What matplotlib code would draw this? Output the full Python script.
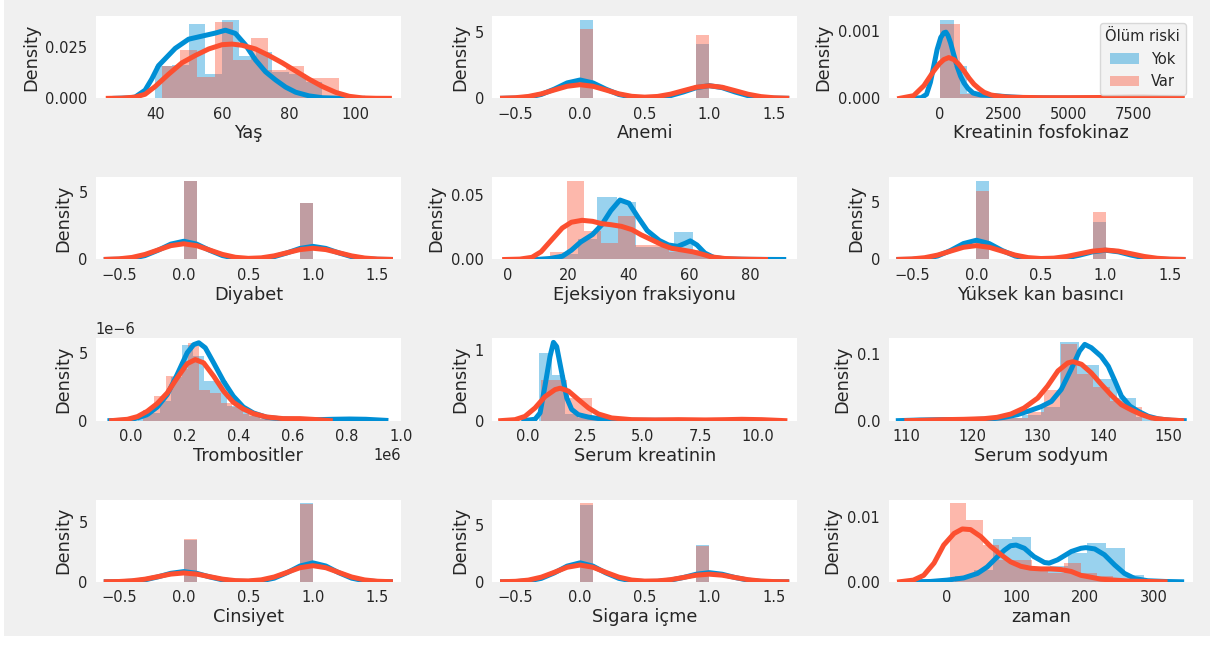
import numpy as np
import matplotlib
matplotlib.use("Agg")
import matplotlib.pyplot as plt
from matplotlib.patches import Rectangle

BLUE = "#008fd5"
RED = "#fc4f30"

# binary variables: bars at 0 and 1 (bin width 0.1), kde on a common grid
bin_left = [0.0, 0.9]
bin_kde_x = [-0.6, -0.5, -0.4, -0.3, -0.2, -0.1, 0.0, 0.1, 0.2, 0.3, 0.4, 0.5,
             0.6, 0.7, 0.8, 0.9, 1.0, 1.1, 1.2, 1.3, 1.4, 1.5, 1.6]

# Yas
yas_yok_edges = [40, 45, 50, 55, 60, 65, 70, 75, 80, 85, 90]
yas_yok_hist = [0.0158, 0.0165, 0.0364, 0.0118, 0.0384, 0.0207, 0.0227, 0.0128, 0.0118, 0.0079]
yas_var_edges = [42, 47.3, 52.6, 57.9, 63.2, 68.5, 73.8, 79.1, 84.4, 89.7, 95]
yas_var_hist = [0.0157, 0.0236, 0.0105, 0.0373, 0.0190, 0.0295, 0.0138, 0.0157, 0.0098, 0.0098]
yas_yok_kde_x = [28, 32, 34, 37, 39, 41, 46, 50, 54, 58, 61, 64, 67, 70, 73, 76, 79, 82, 86, 90, 95, 102]
yas_yok_kde_y = [0, 0.0002, 0.0006, 0.0040, 0.0095, 0.0160, 0.0245, 0.0290, 0.0305, 0.0320, 0.0334,
                 0.0318, 0.0262, 0.0188, 0.0130, 0.0090, 0.0055, 0.0030, 0.0012, 0.0003, 0.00005, 0]
yas_var_kde_x = [26, 30, 34, 37, 40, 44, 48, 52, 56, 60, 63, 66, 70, 74, 78, 82, 86, 90, 94, 98, 102, 106, 110]
yas_var_kde_y = [0, 0.0001, 0.0006, 0.0020, 0.0058, 0.0118, 0.0174, 0.0210, 0.0242, 0.0263, 0.0266, 0.0260,
                 0.0242, 0.0210, 0.0174, 0.0134, 0.0094, 0.0058, 0.0029, 0.0010, 0.0002, 0.00003, 0]

# Anemi
anemi_yok_hist = [5.91, 4.09]
anemi_var_hist = [5.21, 4.79]
anemi_yok_kde = [0.003, 0.019, 0.088, 0.294, 0.695, 1.166, 1.385, 1.166, 0.695, 0.294, 0.090, 0.031,
                 0.064, 0.203, 0.481, 0.807, 0.958, 0.807, 0.481, 0.203, 0.061, 0.013, 0.002]
anemi_var_kde = [0.012, 0.047, 0.143, 0.340, 0.630, 0.911, 1.031, 0.911, 0.630, 0.342, 0.154, 0.091,
                 0.144, 0.315, 0.580, 0.839, 0.949, 0.839, 0.580, 0.313, 0.132, 0.044, 0.011]

# Kreatinin fosfokinaz
cpk_yok_edges = [30, 552, 1074, 1596, 2118, 2640, 3162, 3684, 4206, 4728, 5250, 5772, 6294, 6816, 7338, 7861]
cpk_yok_hist = [0.00117, 0.000491, 0.0000755, 0.0000472, 0.0000283, 0.0000189, 0.0000189, 0.0000094,
                0.0000094, 0.0000094, 0, 0.0000094, 0, 0.0000094, 0.0000189]
cpk_var_edges = [23, 807, 1591, 2374, 3158, 3942, 4726, 5510, 6293, 7077, 7861]
cpk_var_hist = [0.001116, 0.0000665, 0.0000266, 0.0000133, 0.0000133, 0, 0.0000133, 0, 0, 0.0000266]
cpk_yok_kde_x = [-1000, -700, -500, -350, -200, -90, 50, 170, 250, 330, 430, 550, 690, 820, 950, 1100,
                 1300, 1600, 2100, 2800, 3500, 4500, 5500, 6500, 7500, 8750]
cpk_yok_kde_y = [0, 0.00001, 0.00006, 0.00024, 0.00052, 0.00073, 0.00091, 0.00098, 0.00099, 0.00094,
                 0.00083, 0.00066, 0.00047, 0.00033, 0.00023, 0.00015, 0.00008, 0.00005, 0.00004, 0.00002,
                 0.000008, 0.000005, 0.000004, 0.000005, 0.000008, 0]
cpk_var_kde_x = [-1540, -1000, -600, -220, 0, 170, 360, 560, 750, 950, 1150, 1340, 1550, 1730, 2000, 2250,
                 2600, 3000, 4000, 5000, 6000, 6800, 7400, 7900, 8500, 9400]
cpk_var_kde_y = [0, 0.00004, 0.00019, 0.00041, 0.00052, 0.00058, 0.00061, 0.00058, 0.00051, 0.00041,
                 0.0003, 0.00021, 0.00014, 0.00009, 0.00005, 0.000035, 0.00002, 0.000015, 0.00001, 0.00001,
                 0.000012, 0.000015, 0.00002, 0.00002, 0.000012, 0]

# Diyabet
diyabet_yok_hist = [5.81, 4.19]
diyabet_var_hist = [5.83, 4.17]
diyabet_yok_kde = [0.003, 0.019, 0.088, 0.290, 0.684, 1.144, 1.357, 1.144, 0.684, 0.290, 0.090, 0.032,
                   0.066, 0.209, 0.492, 0.824, 0.977, 0.824, 0.492, 0.209, 0.063, 0.013, 0.002]
diyabet_var_kde = [0.012, 0.050, 0.154, 0.376, 0.706, 1.031, 1.170, 1.031, 0.706, 0.378, 0.163, 0.085,
                   0.122, 0.271, 0.504, 0.737, 0.836, 0.737, 0.504, 0.268, 0.110, 0.035, 0.009]

# Ejeksiyon fraksiyonu
ef_yok_edges = [17, 23.3, 29.6, 35.9, 42.2, 48.5, 54.8, 61.1, 67.4, 73.7, 80]
ef_yok_hist = [0.0039, 0.0156, 0.0485, 0.0446, 0.0094, 0.0094, 0.0211, 0.0039, 0.0016, 0.0008]
ef_var_edges = [14, 19.6, 25.2, 30.8, 36.4, 42, 47.6, 53.2, 58.8, 64.4, 70]
ef_var_hist = [0.0056, 0.0610, 0.0223, 0.0130, 0.0335, 0.0112, 0.0112, 0.0056, 0.0074, 0.0019]
ef_yok_kde_x = [6, 10, 14, 18, 21, 24, 28, 31, 34, 37, 40, 43, 46, 50, 53, 56, 58.5, 60.2, 62.4, 65, 68, 72, 80, 91]
ef_yok_kde_y = [0, 0.0001, 0.0008, 0.0025, 0.0072, 0.0135, 0.0195, 0.0270, 0.0380, 0.0463, 0.0438, 0.0328,
                0.0225, 0.0148, 0.0113, 0.0102, 0.0126, 0.0145, 0.0113, 0.0050, 0.0015, 0.0004, 0.0001, 0]
ef_var_kde_x = [-1, 4, 8, 11, 14.5, 18, 21, 24.5, 28, 31, 34, 37.5, 41, 44, 47.5, 51, 54, 57.5, 61, 64, 67,
                71.5, 77, 85]
ef_var_kde_y = [0, 0.0003, 0.0017, 0.0060, 0.0153, 0.0245, 0.0290, 0.0305, 0.0297, 0.0279, 0.0271, 0.0258,
                0.0232, 0.0192, 0.0153, 0.0113, 0.0087, 0.0074, 0.0060, 0.0042, 0.0021, 0.0008, 0.0003, 0]

# Yuksek kan basinci
yuksek_yok_hist = [6.75, 3.25]
yuksek_var_hist = [5.94, 4.06]
yuksek_yok_kde = [0.002, 0.014, 0.080, 0.300, 0.776, 1.372, 1.659, 1.372, 0.776, 0.300, 0.081, 0.021,
                  0.040, 0.145, 0.374, 0.661, 0.799, 0.661, 0.374, 0.145, 0.038, 0.007, 0.001]
yuksek_var_kde = [0.012, 0.050, 0.155, 0.380, 0.719, 1.052, 1.196, 1.052, 0.719, 0.382, 0.163, 0.084,
                  0.118, 0.263, 0.492, 0.720, 0.818, 0.720, 0.492, 0.260, 0.106, 0.034, 0.008]

# Trombositler
tromb_yok_edges = [25100, 66340, 107580, 148820, 190060, 231300, 272540, 313780, 355020, 396260, 437500,
                   478740, 519980, 561220, 602460, 643700, 684940, 726180, 767420, 808660, 850000]
tromb_yok_hist = [0.25e-6, 0.6e-6, 1.45e-6, 3.2e-6, 5.57e-6, 4.78e-6, 2.9e-6, 2.9e-6, 1.1e-6, 0.94e-6,
                  0.36e-6, 0.12e-6, 0.12e-6, 0.12e-6, 0, 0, 0.12e-6, 0, 0, 0.12e-6]
tromb_var_edges = [47000, 88000, 129000, 170000, 211000, 252000, 293000, 334000, 375000, 416000, 457000,
                   498000, 539000, 580000, 621000]
tromb_var_hist = [0.76e-6, 1.78e-6, 3.3e-6, 3.8e-6, 5.7e-6, 2.29e-6, 2.03e-6, 1.27e-6, 1.02e-6, 0.51e-6,
                  0.51e-6, 0.25e-6, 0, 0.25e-6]
tromb_yok_kde_x = [-77000, -12000, 25000, 61000, 98000, 135000, 172000, 209000, 233000, 252000, 276000,
                   307000, 344000, 380000, 417000, 454000, 503000, 564000, 626000, 687000, 748000, 810000,
                   871000, 945000]
tromb_yok_kde_y = [0, 0.03e-6, 0.2e-6, 0.44e-6, 1.0e-6, 1.92e-6, 3.4e-6, 5.0e-6, 5.6e-6, 5.74e-6, 5.37e-6,
                   4.26e-6, 2.9e-6, 1.8e-6, 1.0e-6, 0.57e-6, 0.25e-6, 0.12e-6, 0.07e-6, 0.07e-6, 0.1e-6,
                   0.12e-6, 0.1e-6, 0.02e-6]
tromb_var_kde_x = [-71000, -12000, 25000, 61000, 98000, 135000, 172000, 209000, 239000, 270000, 307000,
                   344000, 380000, 417000, 454000, 503000, 564000, 626000, 687000, 739000]
tromb_var_kde_y = [0, 0.1e-6, 0.3e-6, 0.69e-6, 1.26e-6, 2.04e-6, 3.15e-6, 4.2e-6, 4.5e-6, 4.26e-6, 3.28e-6,
                   2.17e-6, 1.35e-6, 0.86e-6, 0.52e-6, 0.27e-6, 0.15e-6, 0.15e-6, 0.08e-6, 0]

# Serum kreatinin
sk_yok_edges = [0.5, 1.06, 1.62, 2.18, 2.74, 3.3, 3.86, 4.42, 4.98, 5.54, 6.1]
sk_yok_hist = [0.96, 0.651, 0.088, 0.044, 0.0176, 0.0088, 0.0088, 0, 0, 0.0088]
sk_var_edges = [0.6, 1.7, 2.8, 3.9, 5.0, 6.1, 7.2, 8.3, 9.4]
sk_var_hist = [0.58, 0.32, 0.04, 0.02, 0.01, 0.01, 0, 0.02]
sk_yok_kde_x = [-0.17, 0.32, 0.54, 0.75, 0.97, 1.12, 1.26, 1.48, 1.7, 1.91, 2.2, 2.64, 3.07, 3.65, 4.52,
                5.68, 6.77]
sk_yok_kde_y = [0, 0.02, 0.11, 0.49, 0.91, 1.11, 1.05, 0.68, 0.32, 0.16, 0.085, 0.05, 0.03, 0.014, 0.005,
                0.005, 0]
sk_var_kde_x = [-1.17, -0.55, -0.12, 0.32, 0.75, 1.19, 1.41, 1.77, 2.2, 2.64, 3.07, 3.65, 4.52, 5.54, 6.55,
                7.71, 8.58, 9.3, 10.17, 11.17]
sk_var_kde_y = [0, 0.014, 0.06, 0.18, 0.34, 0.44, 0.46, 0.42, 0.3, 0.18, 0.095, 0.038, 0.014, 0.01, 0.014,
                0.01, 0.014, 0.019, 0.014, 0]

# Serum sodyum
na_yok_edges = [113, 115.9, 118.8, 121.8, 124.7, 127.6, 130.5, 133.4, 136.3, 139.3, 142.2, 145.1, 148]
na_yok_hist = [0.0017, 0.0017, 0, 0.0017, 0.0034, 0.0085, 0.0203, 0.118, 0.0845, 0.0625, 0.0338, 0.0051]
na_var_edges = [116, 118.5, 121, 123.5, 126, 128.5, 131, 133.5, 136, 138.5, 141, 143.5, 146]
na_var_hist = [0.0042, 0, 0.0042, 0.0083, 0.0042, 0.0125, 0.046, 0.115, 0.07, 0.05, 0.029, 0.0208]
na_yok_kde_x = [108.7, 112, 115.6, 119.7, 122.8, 124.9, 126.9, 129, 130.5, 132.1, 133.6, 135.1, 136.4,
                137.2, 138.2, 139.7, 140.8, 141.8, 142.8, 144.1, 145.4, 146.9, 148.5, 150.5, 152.4]
na_yok_kde_y = [0, 0.001, 0.0015, 0.0015, 0.0025, 0.005, 0.009, 0.0157, 0.021, 0.029, 0.047, 0.077, 0.105,
                0.115, 0.11, 0.097, 0.082, 0.06, 0.037, 0.022, 0.014, 0.0066, 0.0025, 0.0005, 0]
na_var_kde_x = [110, 112.6, 115.6, 118.7, 121.8, 123.8, 125.9, 127.9, 130, 131.5, 133.1, 134.6, 135.4,
                136.7, 138.2, 139.7, 141.3, 142.8, 144.4, 145.9, 147.4, 149.5, 152]
na_var_kde_y = [0, 0.0005, 0.0015, 0.002, 0.003, 0.005, 0.01, 0.019, 0.034, 0.052, 0.075, 0.087, 0.089,
                0.085, 0.072, 0.055, 0.038, 0.024, 0.0157, 0.009, 0.004, 0.0015, 0]

# Cinsiyet
cinsiyet_yok_hist = [3.50, 6.50]
cinsiyet_var_hist = [3.54, 6.46]
cinsiyet_yok_kde = [0.001, 0.009, 0.045, 0.162, 0.406, 0.704, 0.845, 0.704, 0.406, 0.162, 0.047, 0.025,
                    0.085, 0.301, 0.755, 1.308, 1.570, 1.308, 0.755, 0.301, 0.084, 0.016, 0.002]
cinsiyet_var_kde = [0.006, 0.025, 0.085, 0.218, 0.427, 0.640, 0.732, 0.640, 0.427, 0.220, 0.096, 0.071,
                    0.161, 0.399, 0.780, 1.167, 1.335, 1.167, 0.780, 0.398, 0.155, 0.046, 0.011]

# Sigara icme
sigara_yok_hist = [6.75, 3.25]
sigara_var_hist = [6.88, 3.13]
sigara_yok_kde = [0.002, 0.014, 0.080, 0.300, 0.776, 1.372, 1.659, 1.372, 0.776, 0.300, 0.081, 0.021,
                  0.040, 0.145, 0.374, 0.661, 0.799, 0.661, 0.374, 0.145, 0.038, 0.007, 0.001]
sigara_var_kde = [0.009, 0.041, 0.148, 0.405, 0.827, 1.272, 1.467, 1.272, 0.827, 0.406, 0.152, 0.060,
                  0.076, 0.185, 0.376, 0.578, 0.667, 0.578, 0.376, 0.184, 0.067, 0.019, 0.004]

# zaman
zaman_yok_edges = [12, 39.3, 66.6, 93.9, 121.2, 148.5, 175.8, 203.1, 230.4, 257.7, 285]
zaman_yok_hist = [0.0009, 0.0018, 0.0066, 0.0069, 0.0018, 0.0025, 0.0045, 0.0060, 0.0052, 0.0010]
zaman_var_edges = [4, 27.7, 51.4, 75.1, 98.8, 122.5, 146.2, 169.9, 193.6, 217.3, 241]
zaman_var_hist = [0.0122, 0.0096, 0.0057, 0.0034, 0.0034, 0.0022, 0.0013, 0.0029, 0.0013, 0.0009]
zaman_yok_kde_x = [-57, -24, 0, 24, 44, 58, 73, 83, 92, 100, 112, 126, 141, 148, 160, 180, 194, 201, 214,
                   228, 243, 257, 272, 291, 316, 340]
zaman_yok_kde_y = [0, 0.00005, 0.00026, 0.0006, 0.0013, 0.0023, 0.0039, 0.0049, 0.0056, 0.0057, 0.0052,
                   0.0039, 0.0030, 0.0029, 0.0034, 0.0047, 0.0052, 0.0053, 0.0051, 0.0042, 0.0026, 0.0013,
                   0.0005, 0.00016, 0.00005, 0]
zaman_var_kde_x = [-69, -49, -34, -19, -5, 10, 22, 34, 49, 63, 78, 92, 107, 121, 136, 150, 165, 180, 194,
                   209, 223, 243, 267, 316]
zaman_var_kde_y = [0, 0.00026, 0.001, 0.0029, 0.0057, 0.0075, 0.0082, 0.0081, 0.0070, 0.0055, 0.0042,
                   0.0031, 0.0024, 0.0021, 0.0020, 0.0020, 0.0019, 0.0016, 0.0010, 0.0007, 0.0004, 0.00026,
                   0.0001, 0]

bin_xticks = [-0.5, 0.0, 0.5, 1.0, 1.5]
bin_xlim = (-0.68, 1.68)


def binary(label, yok_h, var_h, yok_k, var_k, ytop):
    return dict(label=label, binary=True,
                yok=(None, yok_h, bin_kde_x, yok_k), var=(None, var_h, bin_kde_x, var_k),
                xticks=bin_xticks, yticks=[0, 5], xlim=bin_xlim, ylim=(0, ytop))


panels = [
    dict(label="Yaş", binary=False,
         yok=(yas_yok_edges, yas_yok_hist, yas_yok_kde_x, yas_yok_kde_y),
         var=(yas_var_edges, yas_var_hist, yas_var_kde_x, yas_var_kde_y),
         xticks=[40, 60, 80, 100], yticks=[0, 0.025], xlim=(22.3, 113.4), ylim=(0, 0.0403)),
    binary("Anemi", anemi_yok_hist, anemi_var_hist, anemi_yok_kde, anemi_var_kde, 6.21),
    dict(label="Kreatinin fosfokinaz", binary=False,
         yok=(cpk_yok_edges, cpk_yok_hist, cpk_yok_kde_x, cpk_yok_kde_y),
         var=(cpk_var_edges, cpk_var_hist, cpk_var_kde_x, cpk_var_kde_y),
         xticks=[0, 2500, 5000, 7500], yticks=[0, 0.001], xlim=(-1972, 9831), ylim=(0, 0.00123)),
    binary("Diyabet", diyabet_yok_hist, diyabet_var_hist, diyabet_yok_kde, diyabet_var_kde, 6.12),
    dict(label="Ejeksiyon fraksiyonu", binary=False,
         yok=(ef_yok_edges, ef_yok_hist, ef_yok_kde_x, ef_yok_kde_y),
         var=(ef_var_edges, ef_var_hist, ef_var_kde_x, ef_var_kde_y),
         xticks=[0, 20, 40, 60, 80], yticks=[0, 0.05], xlim=(-5.1, 95.4), ylim=(0, 0.064)),
    binary("Yüksek kan basıncı", yuksek_yok_hist, yuksek_var_hist, yuksek_yok_kde, yuksek_var_kde, 7.09),
    dict(label="Trombositler", binary=False,
         yok=(tromb_yok_edges, tromb_yok_hist, tromb_yok_kde_x, tromb_yok_kde_y),
         var=(tromb_var_edges, tromb_var_hist, tromb_var_kde_x, tromb_var_kde_y),
         xticks=[0, 200000, 400000, 600000, 800000, 1000000], yticks=[0, 5e-6],
         xlim=(-129000, 990000), ylim=(0, 6.06e-6)),
    dict(label="Serum kreatinin", binary=False,
         yok=(sk_yok_edges, sk_yok_hist, sk_yok_kde_x, sk_yok_kde_y),
         var=(sk_var_edges, sk_var_hist, sk_var_kde_x, sk_var_kde_y),
         xticks=[0, 2.5, 5, 7.5, 10], yticks=[0, 1], xlim=(-1.54, 11.7), ylim=(0, 1.166)),
    dict(label="Serum sodyum", binary=False,
         yok=(na_yok_edges, na_yok_hist, na_yok_kde_x, na_yok_kde_y),
         var=(na_var_edges, na_var_hist, na_var_kde_x, na_var_kde_y),
         xticks=[110, 120, 130, 140, 150], yticks=[0, 0.1], xlim=(107.2, 153.8), ylim=(0, 0.124)),
    binary("Cinsiyet", cinsiyet_yok_hist, cinsiyet_var_hist, cinsiyet_yok_kde, cinsiyet_var_kde, 6.82),
    binary("Sigara içme", sigara_yok_hist, sigara_var_hist, sigara_yok_kde, sigara_var_kde, 7.2),
    dict(label="zaman", binary=False,
         yok=(zaman_yok_edges, zaman_yok_hist, zaman_yok_kde_x, zaman_yok_kde_y),
         var=(zaman_var_edges, zaman_var_hist, zaman_var_kde_x, zaman_var_kde_y),
         xticks=[0, 100, 200, 300], yticks=[0, 0.01], xlim=(-85, 357), ylim=(0, 0.01276)),
]

TEXT = "#262626"
plt.rcParams['font.family'] = ['DejaVu Sans']
plt.rcParams['text.color'] = TEXT
plt.rcParams['axes.labelcolor'] = TEXT
plt.rcParams['xtick.color'] = TEXT
plt.rcParams['ytick.color'] = TEXT

fig, axes = plt.subplots(4, 3, figsize=(12.14, 6.45), dpi=100)
fig.patch.set_facecolor('white')
fig.patches.append(Rectangle((4 / 1214, 9 / 645), 1206 / 1214, 636 / 645, transform=fig.transFigure,
                             facecolor='#f0f0f0', edgecolor='none', zorder=-10))
fig.subplots_adjust(left=0.079, right=0.983, top=0.975, bottom=0.098, wspace=0.30, hspace=0.96)


def draw_group(ax, group, color, is_binary):
    edges, hist, kx, ky = group
    if is_binary:
        left, width = bin_left, 0.1
    else:
        left, width = edges[:-1], np.diff(edges)
    bars = ax.bar(left, hist, width=width, align='edge', color=color, alpha=0.4,
                  linewidth=0, zorder=1)
    ax.plot(kx, ky, color=color, linewidth=3.6, zorder=2)
    return bars


for ax, p in zip(axes.flat, panels):
    ax.set_facecolor('white')
    b1 = draw_group(ax, p['yok'], BLUE, p['binary'])
    b2 = draw_group(ax, p['var'], RED, p['binary'])
    ax.set_xlim(*p['xlim'])
    ax.set_ylim(*p['ylim'])
    ax.set_xticks(p['xticks'])
    ax.set_yticks(p['yticks'])
    ax.set_xlabel(p['label'], fontsize=12.8, labelpad=2)
    ax.set_ylabel("Density", fontsize=12.8, labelpad=4)
    ax.tick_params(length=0, pad=6, labelsize=10.5)
    ax.xaxis.get_offset_text().set_fontsize(10.5)
    ax.yaxis.get_offset_text().set_fontsize(10.5)
    for s in ax.spines.values():
        s.set_visible(False)
    ax.grid(False)
    if p['label'] == "Kreatinin fosfokinaz":
        leg = ax.legend([b1, b2], ["Yok", "Var"], title="Ölüm riski", loc='upper right',
                        fontsize=10.5, title_fontsize=10.5, frameon=True, fancybox=True)
        leg.get_frame().set_facecolor('#f0f0f0')
        leg.get_frame().set_edgecolor('#d0d0d0')

fig.savefig("out.png", dpi=100, facecolor=fig.get_facecolor())
